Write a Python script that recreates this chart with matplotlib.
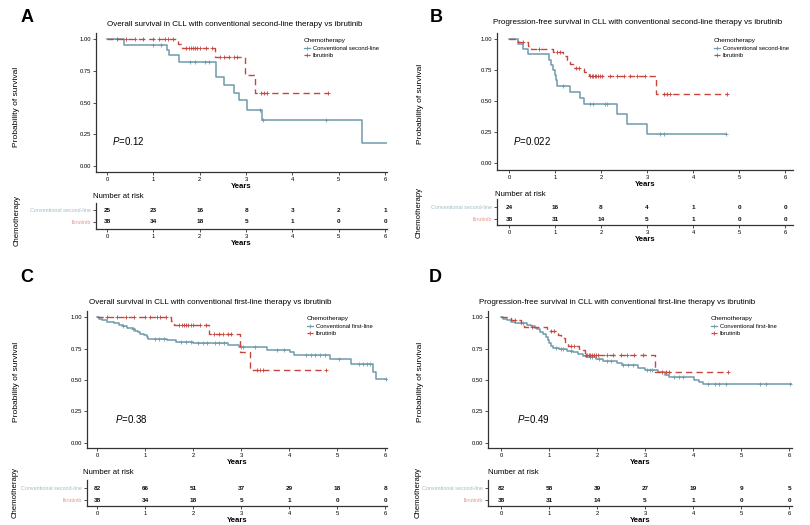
import matplotlib
matplotlib.use('Agg')
import matplotlib.pyplot as plt
from matplotlib.lines import Line2D
import numpy as np

plt.rcParams['font.family'] = ['Liberation Sans', 'DejaVu Sans']
plt.rcParams['mathtext.fontset'] = 'custom'
plt.rcParams['mathtext.it'] = 'Liberation Sans:italic'
plt.rcParams['mathtext.rm'] = 'Liberation Sans'

# ---------------- data ----------------
years = [0, 1, 2, 3, 4, 5, 6]
panel_letters = ['A', 'B', 'C', 'D']
titles = [
    'Overall survival in CLL with conventional second-line therapy vs ibrutinib',
    'Progression-free survival in CLL with conventional second-line therapy vs ibrutinib',
    'Overall survival in CLL with conventional first-line therapy vs ibrutinib',
    'Progression-free survival in CLL with conventional first-line therapy vs ibrutinib',
]
legend_labels = [
    ['Conventional second-line', 'Ibrutinib'],
    ['Conventional second-line', 'Ibrutinib'],
    ['Conventional first-line', 'Ibrutinib'],
    ['Conventional first-line', 'Ibrutinib'],
]
risk_labels = ['Conventional second-line', 'Ibrutinib']
p_values = ['0.12', '0.022', '0.38', '0.49']

# A: OS, conventional second-line
A_conv_t = [0, 0.37, 1.29, 1.34, 1.55, 2.35, 2.53, 2.73, 2.84, 3.02, 3.34, 5.51, 6.04]
A_conv_s = [1.0, 0.958, 0.915, 0.874, 0.822, 0.70, 0.638, 0.577, 0.518, 0.446, 0.36, 0.179, 0.179]
A_conv_cens = [0.99, 1.17, 1.79, 1.90, 2.12, 2.19, 3.30, 3.37, 4.73]

# Ibrutinib OS (A and C)
ibr_os_t = [0, 1.53, 1.61, 2.33, 2.97, 3.19, 4.77]
ibr_os_s = [1.0, 0.966, 0.933, 0.862, 0.72, 0.578, 0.578]
ibr_os_cens = [0.21, 0.41, 0.60, 0.77, 1.00, 1.11, 1.25, 1.32, 1.43, 1.71, 1.76,
               1.81, 1.85, 1.90, 1.95, 2.00, 2.14, 2.26, 2.43, 2.53, 2.62, 2.73,
               2.80, 3.33, 3.39, 3.46, 4.77]

# B: PFS, conventional second-line
B_conv_t = [0, 0.2, 0.31, 0.41, 0.88, 0.91, 0.95, 0.99, 1.02, 1.05, 1.33, 1.54,
            1.62, 2.35, 2.56, 2.99, 4.72]
B_conv_s = [1.0, 0.958, 0.917, 0.875, 0.833, 0.792, 0.75, 0.708, 0.667, 0.622,
            0.575, 0.525, 0.476, 0.395, 0.315, 0.236, 0.236]
B_conv_cens = [1.18, 1.76, 1.83, 2.09, 2.14, 3.28, 3.37, 4.72]

# Ibrutinib PFS (B and D)
ibr_pfs_t = [0, 0.2, 0.42, 0.48, 0.96, 1.18, 1.25, 1.33, 1.40, 1.63, 1.74, 3.20, 4.73]
ibr_pfs_s = [1.0, 0.974, 0.947, 0.92, 0.891, 0.861, 0.83, 0.80, 0.768, 0.735,
             0.70, 0.56, 0.56]
ibr_pfs_cens = [0.30, 0.65, 1.04, 1.10, 1.45, 1.52, 1.77, 1.80, 1.83, 1.86, 1.90,
                1.94, 1.98, 2.02, 2.20, 2.34, 2.49, 2.63, 2.78, 2.96, 3.36, 3.43,
                3.50, 4.73]

# C: OS, conventional first-line
C_conv_t = [0, 0.05, 0.1, 0.2, 0.35, 0.45, 0.55, 0.62, 0.75, 0.8, 0.85, 0.9, 0.97,
            1.03, 1.07, 1.45, 1.65, 2.0, 2.72, 2.95, 3.55, 4.02, 4.10, 4.85, 5.28,
            5.75, 5.82, 6.04]
C_conv_s = [1.0, 0.988, 0.976, 0.963, 0.951, 0.939, 0.927, 0.914, 0.902, 0.890,
            0.878, 0.866, 0.854, 0.841, 0.829, 0.816, 0.803, 0.79, 0.775, 0.76,
            0.742, 0.72, 0.697, 0.664, 0.627, 0.565, 0.505, 0.505]
C_conv_cens = [0.55, 0.75, 1.20, 1.30, 1.40, 1.75, 1.85, 1.95, 2.10, 2.20, 2.30,
               2.45, 2.55, 2.65, 3.00, 3.05, 3.30, 3.75, 3.90, 4.35, 4.45, 4.55,
               4.65, 4.75, 5.03, 5.45, 5.55, 5.62, 5.68, 6.02]

# D: PFS, conventional first-line
D_conv_t = [0, 0.05, 0.12, 0.2, 0.3, 0.55, 0.62, 0.7, 0.76, 0.82, 0.88, 0.93, 0.97,
            1.0, 1.04, 1.08, 1.2, 1.38, 1.5, 1.6, 1.7, 1.78, 1.98, 2.12, 2.42,
            2.52, 2.85, 3.0, 3.28, 3.42, 3.5, 4.02, 4.12, 4.2, 6.05]
D_conv_s = [1.0, 0.988, 0.976, 0.963, 0.951, 0.939, 0.927, 0.914, 0.902, 0.878,
            0.866, 0.841, 0.817, 0.792, 0.768, 0.756, 0.743, 0.731, 0.719, 0.706,
            0.694, 0.682, 0.668, 0.652, 0.636, 0.616, 0.597, 0.577, 0.56, 0.542,
            0.524, 0.504, 0.485, 0.467, 0.467]
D_conv_cens = [0.45, 1.15, 1.25, 1.30, 1.45, 1.85, 1.90, 2.05, 2.20, 2.30, 2.55,
               2.65, 2.75, 3.05, 3.10, 3.15, 3.60, 3.70, 3.80, 4.31, 4.45, 4.55,
               4.69, 5.39, 5.51, 6.02]

risk_A = [[25, 23, 16, 8, 3, 2, 1], [38, 34, 18, 5, 1, 0, 0]]
risk_B = [[24, 16, 8, 4, 1, 0, 0], [38, 31, 14, 5, 1, 0, 0]]
risk_C = [[82, 66, 51, 37, 29, 18, 8], [38, 34, 18, 5, 1, 0, 0]]
risk_D = [[82, 58, 39, 27, 19, 9, 5], [38, 31, 14, 5, 1, 0, 0]]

curves = [
    ((A_conv_t, A_conv_s, A_conv_cens), (ibr_os_t, ibr_os_s, ibr_os_cens)),
    ((B_conv_t, B_conv_s, B_conv_cens), (ibr_pfs_t, ibr_pfs_s, ibr_pfs_cens)),
    ((C_conv_t, C_conv_s, C_conv_cens), (ibr_os_t, ibr_os_s, ibr_os_cens)),
    ((D_conv_t, D_conv_s, D_conv_cens), (ibr_pfs_t, ibr_pfs_s, ibr_pfs_cens)),
]
risks = [risk_A, risk_B, risk_C, risk_D]

# ---------------- layout (pixels) ----------------
W, H = 810, 525
layouts = [
    dict(main=(96, 33, 387, 172), xlim=(-0.24, 6.04), ylim=(-0.047, 1.05),
         risk=(96, 203, 387, 229), rylim=(0.35, 2.65), title=(235, 24), letter=(27, 17),
         legend=(304, 38), nar=(93, 197), prob=(17, 107), chemo=(17, 220), p=(0.1, 0.2)),
    dict(main=(497, 33, 793, 170), xlim=(-0.26, 6.17), ylim=(-0.056, 1.048),
         risk=(497, 199, 793, 225), rylim=(0.5, 2.67), title=(638, 23), letter=(436, 17),
         legend=(714, 38), nar=(495, 194), prob=(420, 104), chemo=(419, 213), p=(0.09, 0.18)),
    dict(main=(87, 311, 387, 448), xlim=(-0.21, 6.04), ylim=(-0.04, 1.048),
         risk=(87, 480, 387, 506), rylim=(0.5, 2.67), title=(210, 303), letter=(27, 278),
         legend=(307, 316), nar=(83, 473), prob=(17, 382), chemo=(15, 493), p=(0.37, 0.19)),
    dict(main=(488, 311, 792, 448), xlim=(-0.27, 6.06), ylim=(-0.04, 1.048),
         risk=(488, 480, 792, 506), rylim=(0.5, 2.67), title=(617, 302), letter=(435, 277),
         legend=(711, 316), nar=(488, 473), prob=(420, 382), chemo=(418, 492), p=(0.33, 0.19)),
]

BLUE = '#6f9bab'
RED = '#c9443a'
BLUE_LBL = '#a3bcc7'
RED_LBL = '#e29a92'
SPINE = '#333333'
DASH = (0, (4.5, 3))

fig = plt.figure(figsize=(W / 100, H / 100), dpi=100)


def box(l, t, r, b):
    return [l / W, 1 - b / H, (r - l) / W, (b - t) / H]


def fx(x):
    return x / W


def fy(y):
    return 1 - y / H


def surv_at(t, s, tc):
    idx = np.searchsorted(np.asarray(t), np.asarray(tc), side='right') - 1
    return np.asarray(s)[idx]


def style_axes(ax):
    for side in ['top', 'right']:
        ax.spines[side].set_visible(False)
    for side in ['left', 'bottom']:
        ax.spines[side].set_color(SPINE)
        ax.spines[side].set_linewidth(0.9)
    ax.tick_params(labelsize=4.2, length=2, width=0.6, pad=1.5, colors=SPINE, labelcolor='black')
    ax.set_xticks(years)
    ax.set_xticklabels([str(y) for y in years])
    ax.set_xlabel('Years', fontsize=5.6, fontweight='bold', labelpad=1)


for i in range(4):
    L = layouts[i]
    (ct, cs, cc), (it, is_, ic) = curves[i]
    ax = fig.add_axes(box(*L['main']))
    style_axes(ax)
    ax.step(ct, cs, where='post', color=BLUE, lw=1.1)
    ax.plot(cc, surv_at(ct, cs, cc), ls='none', marker='+', ms=3.2, mew=0.6, color=BLUE)
    ax.step(it, is_, where='post', color=RED, lw=1.0, linestyle=DASH)
    ax.plot(ic, surv_at(it, is_, ic), ls='none', marker='+', ms=3.2, mew=0.6, color=RED)
    ax.set_xlim(*L['xlim'])
    ax.set_ylim(*L['ylim'])
    ax.set_yticks([0, 0.25, 0.5, 0.75, 1.0])
    ax.set_yticklabels(['0.00', '0.25', '0.50', '0.75', '1.00'])
    ax.text(L['p'][0], L['p'][1], r'$\mathit{P}$=' + p_values[i], fontsize=7,
            ha='left', va='center')
    handles = [Line2D([], [], color=BLUE, lw=0.9, marker='+', ms=3, mew=0.6),
               Line2D([], [], color=RED, lw=0.9, ls=(0, (2, 1.5)), marker='+', ms=3, mew=0.6)]
    leg = ax.legend(handles, legend_labels[i], title='Chemotherapy', loc='upper left',
                    bbox_to_anchor=(fx(L['legend'][0]), fy(L['legend'][1])),
                    bbox_transform=fig.transFigure, frameon=False, fontsize=4.2,
                    title_fontsize=4.6, borderpad=0, handlelength=1.1,
                    handletextpad=0.4, labelspacing=0.45, borderaxespad=0,
                    alignment='left')

    # risk table
    rax = fig.add_axes(box(*L['risk']))
    style_axes(rax)
    rax.set_xlim(*L['xlim'])
    rax.set_ylim(*L['rylim'])
    rax.set_yticks([2, 1])
    rax.set_yticklabels(risk_labels)
    rax.tick_params(axis='y', labelsize=3.9)
    for lbl, col in zip(rax.get_yticklabels(), [BLUE_LBL, RED_LBL]):
        lbl.set_color(col)
    for row, counts in zip([2, 1], risks[i]):
        for x, n in zip(years, counts):
            rax.text(x, row, str(n), ha='center', va='center', fontsize=4.6,
                     fontweight='bold', color='#111111')

    fig.text(fx(L['nar'][0]), fy(L['nar'][1]), 'Number at risk', fontsize=5.6,
             ha='left', va='center')
    fig.text(fx(L['title'][0]), fy(L['title'][1]), titles[i], fontsize=5.75,
             ha='center', va='center')
    fig.text(fx(L['letter'][0]), fy(L['letter'][1]), panel_letters[i], fontsize=13,
             fontweight='bold', ha='center', va='center')
    fig.text(fx(L['prob'][0]), fy(L['prob'][1]), 'Probability of survival', fontsize=6,
             rotation=90, ha='center', va='center')
    fig.text(fx(L['chemo'][0]), fy(L['chemo'][1]), 'Chemotherapy', fontsize=5.6,
             rotation=90, ha='center', va='center')

fig.savefig('out.png', dpi=100)
